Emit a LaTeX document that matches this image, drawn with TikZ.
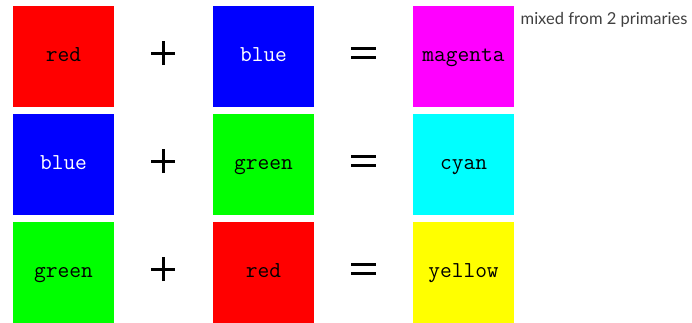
\documentclass[tikz,border=0pt]{standalone}
\usepackage{fontspec}
\setmainfont{Lato}
\definecolor{labelgrey}{HTML}{404040}
\definecolor{pred}{RGB}{255,0,0}
\definecolor{pgreen}{RGB}{0,255,0}
\definecolor{pblue}{RGB}{0,0,255}
\definecolor{pmagenta}{RGB}{255,0,255}
\definecolor{pcyan}{RGB}{0,255,255}
\definecolor{pyellow}{RGB}{255,255,0}
\begin{document}
\begin{tikzpicture}[x=1pt,y=-1pt,
  sq/.style={minimum width=101pt,minimum height=101pt,inner sep=0pt,draw=none,
    text height=12pt,text depth=3pt,
    font=\fontsize{22.8}{22.8}\selectfont\ttfamily},
  op/.style={line width=3pt,black}]
\useasboundingbox (0,0) rectangle (692,322);
% row 1
\node[sq,fill=pred,text=black] (r1a) at (63.5,56.5) {red};
\node[sq,fill=pblue,text=white] (r1b) at (263.5,56.5) {blue};
\node[sq,fill=pmagenta,text=black] (r1c) at (463.5,56.5) {magenta};
% row 2
\node[sq,fill=pblue,text=white] (r2a) at (63.5,164.5) {blue};
\node[sq,fill=pgreen,text=black] (r2b) at (263.5,164.5) {green};
\node[sq,fill=pcyan,text=black] (r2c) at (463.5,164.5) {cyan};
% row 3
\node[sq,fill=pgreen,text=black] (r3a) at (63.5,272.5) {green};
\node[sq,fill=pred,text=black] (r3b) at (263.5,272.5) {red};
\node[sq,fill=pyellow,text=black] (r3c) at (463.5,272.5) {yellow};
% operators
\foreach \y/\n in {53/1,161/2,269/3}{
  \coordinate (p\n) at (163,\y);
  \draw[op] ([xshift=-12pt]p\n) -- ([xshift=12pt]p\n);
  \draw[op] ([yshift=-12pt]p\n) -- ([yshift=12pt]p\n);
  \coordinate (e\n) at (363.5,\y);
  \draw[op] ([xshift=-12.5pt,yshift=-4.5pt]e\n) -- ([xshift=12.5pt,yshift=-4.5pt]e\n);
  \draw[op] ([xshift=-12.5pt,yshift=4.5pt]e\n) -- ([xshift=12.5pt,yshift=4.5pt]e\n);
}
\node[anchor=base west,inner sep=0pt,text=labelgrey,font=\fontsize{16.5}{16.5}\selectfont] (cap) at (520.5,24) {mixed from 2 primaries};
\end{tikzpicture}
\end{document}
